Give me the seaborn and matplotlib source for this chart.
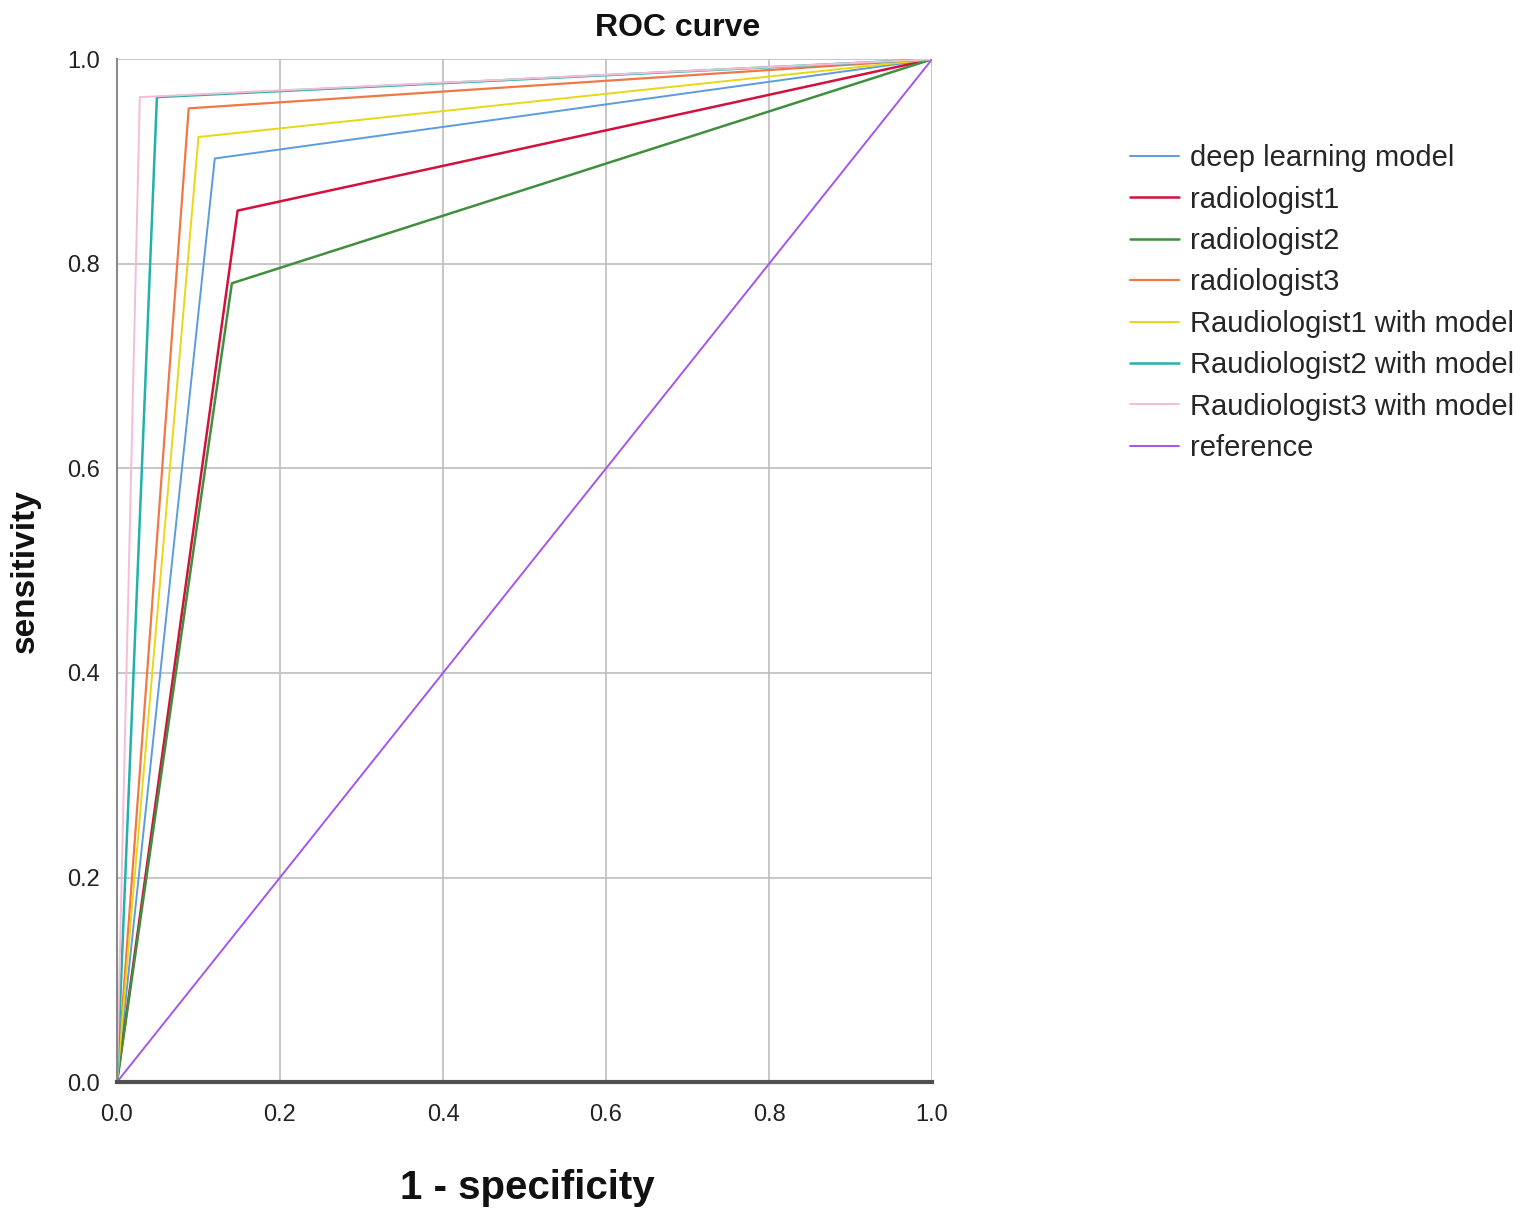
import pandas as pd
import numpy as np
import matplotlib
matplotlib.use('Agg')
import matplotlib.pyplot as plt
import seaborn as sns

# one operating point per rater, ROC drawn (0,0) -> point -> (1,1)
labels = ['deep learning model', 'radiologist1', 'radiologist2', 'radiologist3',
          'Raudiologist1 with model', 'Raudiologist2 with model',
          'Raudiologist3 with model', 'reference']
fpr_point = [0.12, 0.148, 0.141, 0.088, 0.10, 0.049, 0.028, 0.5]
tpr_point = [0.903, 0.852, 0.781, 0.952, 0.924, 0.963, 0.963, 0.5]
colors = ['#5b9be0', '#d4103c', '#3f8f3f', '#f07845', '#e6d814',
          '#22b2aa', '#f6bcd6', '#a455ee']
widths = [1.4, 1.8, 1.8, 1.6, 1.4, 1.8, 1.4, 1.4]
ticks = [0.0, 0.2, 0.4, 0.6, 0.8, 1.0]

rows = []
for lab, fx, ty in zip(labels, fpr_point, tpr_point):
    for step, (x, y) in enumerate([(0.0, 0.0), (fx, ty), (1.0, 1.0)]):
        rows.append({'curve': lab, 'step': step, 'fpr': x, 'tpr': y})
df = pd.DataFrame(rows)

sns.set_style('white')
plt.rcParams['font.family'] = ['Liberation Sans', 'DejaVu Sans']

fig = plt.figure(figsize=(15.35, 12.22), dpi=100)
ax = fig.add_axes([0.0762, 0.1145, 0.531, 0.837])

for lab, c, lw in zip(labels, colors, widths):
    sub = df[df['curve'] == lab]
    sns.lineplot(data=sub, x='fpr', y='tpr', sort=False, color=c, lw=lw,
                 ax=ax, label=lab, estimator=None)

ax.set_xlim(0, 1)
ax.set_ylim(0, 1)
ax.set_xticks(ticks)
ax.set_yticks(ticks)
ax.set_xticklabels([f'{t:.1f}' for t in ticks], fontsize=17, color='#222222')
ax.set_yticklabels([f'{t:.1f}' for t in ticks], fontsize=17, color='#222222')
ax.tick_params(axis='x', length=0, pad=16)
ax.tick_params(axis='y', length=0, pad=12)
ax.grid(True, color='#bdbdbd', lw=1.2)
ax.set_axisbelow(True)
for s in ['top', 'right']:
    ax.spines[s].set_visible(False)
ax.spines['left'].set_color('#8a8a8a')
ax.spines['left'].set_linewidth(1.5)
ax.spines['bottom'].set_color('#505050')
ax.spines['bottom'].set_linewidth(3)

fig.text(0.4417, 0.977, 'ROC curve', fontsize=23, fontweight='bold',
         ha='center', va='center', color='#111111')
ax.set_xlabel('1 - specificity', fontsize=29, fontweight='bold', color='#111111')
ax.xaxis.set_label_coords(0.503, -0.104)
ax.xaxis.label.set_va('center')
ax.set_ylabel('sensitivity', fontsize=24, fontweight='bold', color='#111111')
ax.yaxis.set_label_coords(-0.112, 0.5)
ax.yaxis.label.set_va('center')

ax.legend_.remove()
handles, labs = ax.get_legend_handles_labels()
fig.legend(handles, labs, loc='upper left', bbox_to_anchor=(0.736, 0.882),
           frameon=False, fontsize=21, handlelength=1.7, handletextpad=0.35,
           labelspacing=0.46, borderpad=0, borderaxespad=0)

fig.savefig('out.png', dpi=100)
